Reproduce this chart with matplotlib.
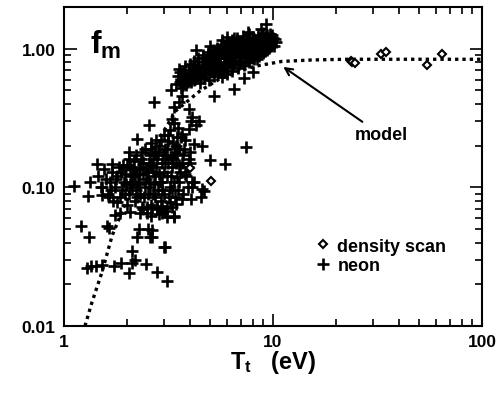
import numpy as np
import matplotlib
matplotlib.use('Agg')
import matplotlib.pyplot as plt

plt.rcParams['font.family'] = ['Liberation Sans', 'DejaVu Sans']
plt.rcParams['font.weight'] = 'bold'
plt.rcParams['axes.labelweight'] = 'bold'
plt.rcParams['mathtext.fontset'] = 'custom'
plt.rcParams['mathtext.rm'] = 'Liberation Sans:bold'
plt.rcParams['mathtext.bf'] = 'Liberation Sans:bold'
plt.rcParams['mathtext.it'] = 'Liberation Sans:bold'

# neon shots (T_t [eV], f_m)
neon_upper = [
    (3.45, 0.56), (3.5, 0.64), (3.55, 0.71), (3.62, 0.52), (3.68, 0.60), (3.72, 0.67), (3.78, 0.75),
    (3.85, 0.55), (3.9, 0.63), (3.95, 0.70), (4.0, 0.78), (4.05, 0.58), (4.1, 0.66), (4.15, 0.73), (4.2, 0.82),
    (4.25, 0.61), (4.3, 0.69), (4.35, 0.77), (4.4, 0.86), (4.45, 0.57), (4.5, 0.64), (4.55, 0.72), (4.6, 0.80),
    (4.65, 0.90), (4.7, 0.62), (4.75, 0.68), (4.8, 0.76), (4.85, 0.85), (4.9, 0.94), (4.95, 0.60), (5.0, 0.70),
    (5.05, 0.79), (5.1, 0.88), (5.15, 0.98), (5.2, 0.64), (5.25, 0.73), (5.3, 0.82), (5.35, 0.92), (5.4, 1.02),
    (5.45, 0.67), (5.5, 0.76), (5.55, 0.86), (5.6, 0.96), (5.65, 1.07), (5.7, 0.63), (5.78, 0.71), (5.85, 0.80),
    (5.9, 0.90), (5.95, 1.00), (6.0, 1.12), (6.05, 0.66), (6.12, 0.75), (6.2, 0.84), (6.25, 0.94), (6.3, 1.05),
    (6.35, 1.16), (6.4, 0.69), (6.48, 0.78), (6.55, 0.88), (6.6, 0.98), (6.68, 1.09), (6.75, 1.20), (6.8, 0.73),
    (6.88, 0.82), (6.95, 0.92), (7.0, 1.02), (7.1, 1.13), (7.2, 1.24), (7.25, 0.76), (7.32, 0.86), (7.4, 0.96),
    (7.48, 1.06), (7.55, 1.17), (7.65, 1.27), (7.7, 0.80), (7.8, 0.90), (7.88, 1.00), (7.95, 1.10), (8.05, 1.21),
    (8.1, 0.84), (8.2, 0.94), (8.3, 1.04), (8.4, 1.14), (8.5, 1.25), (8.55, 0.88), (8.65, 0.98), (8.75, 1.08),
    (8.85, 1.18), (8.95, 1.30), (9.0, 0.93), (9.1, 1.03), (9.2, 1.13), (9.3, 1.23), (9.4, 0.98), (9.5, 1.08),
    (9.6, 1.18), (9.7, 1.28), (9.8, 1.04), (9.9, 1.13), (10.0, 1.20), (10.3, 1.12),
    (9.25, 1.5), (4.3, 0.98), (5.0, 1.05), (5.7, 1.16), (6.0, 1.22), (6.5, 1.2), (7.6, 1.33), (8.8, 1.38),
    (6.5, 0.51), (5.2, 0.46), (7.3, 0.62), (8.0, 0.68),
    (3.6, 0.68), (3.8, 0.64), (4.0, 0.62), (4.2, 0.70), (4.4, 0.74), (4.6, 0.67), (4.8, 0.82), (5.0, 0.90),
    (5.2, 0.84), (5.4, 0.78), (5.6, 0.70), (5.8, 0.95), (6.0, 0.86), (6.2, 1.0), (6.4, 0.92), (6.6, 0.82),
    (6.8, 1.05), (7.0, 0.80), (7.2, 0.95), (7.5, 0.88), (7.7, 1.12), (8.0, 0.98), (8.3, 0.90), (8.6, 1.15),
    (9.0, 1.1), (9.4, 1.26), (9.8, 1.2), (10.1, 1.05),
    (3.7, 0.55), (3.9, 0.58), (4.1, 0.62), (4.3, 0.65), (4.5, 0.68), (4.7, 0.72), (4.9, 0.76), (5.1, 0.80),
    (5.3, 0.86), (5.5, 0.90), (5.7, 0.93), (5.9, 0.97), (6.1, 1.02), (6.3, 1.08), (6.5, 1.12), (6.7, 1.15),
    (4.6, 0.86), (4.9, 0.88), (5.2, 0.95), (5.5, 1.0), (5.8, 1.05), (6.1, 0.92), (6.4, 0.86), (6.7, 0.95),
    (7.0, 1.08), (7.3, 1.10), (7.6, 1.0), (7.9, 0.94), (8.2, 1.12), (8.5, 1.04), (8.8, 0.95), (9.1, 1.18),
    (5.4, 0.70), (5.9, 0.74), (6.3, 0.77), (6.9, 0.78), (7.4, 0.82), (7.9, 0.86), (8.4, 0.85), (9.2, 0.97),
    (4.2, 0.60), (4.4, 0.64), (4.8, 0.66), (5.1, 0.68), (9.6, 1.02), (9.9, 1.26), (10.2, 1.17), (8.9, 1.23),
]
neon_lower = [
    (1.62, 0.09), (1.66, 0.11), (1.70, 0.13), (1.72, 0.08), (1.76, 0.10), (1.80, 0.12), (1.84, 0.14),
    (1.86, 0.085), (1.9, 0.095), (1.93, 0.11), (1.96, 0.125), (2.0, 0.145), (2.0, 0.075), (2.04, 0.09),
    (2.07, 0.105), (2.1, 0.12), (2.13, 0.135), (2.16, 0.155), (2.18, 0.08), (2.22, 0.095), (2.25, 0.11),
    (2.28, 0.125), (2.31, 0.14), (2.34, 0.16), (2.36, 0.18), (2.38, 0.07), (2.42, 0.085), (2.45, 0.1),
    (2.48, 0.115), (2.51, 0.13), (2.54, 0.15), (2.57, 0.17), (2.6, 0.19), (2.62, 0.075), (2.66, 0.09),
    (2.7, 0.105), (2.73, 0.12), (2.76, 0.14), (2.8, 0.16), (2.83, 0.18), (2.86, 0.2), (2.9, 0.08),
    (2.93, 0.095), (2.96, 0.11), (3.0, 0.13), (3.03, 0.15), (3.07, 0.17), (3.1, 0.19), (3.14, 0.215),
    (3.18, 0.085), (3.22, 0.1), (3.26, 0.12), (3.3, 0.14), (3.34, 0.16), (3.38, 0.18), (3.42, 0.2),
    (3.46, 0.23), (3.5, 0.095), (3.55, 0.11), (3.6, 0.13), (3.65, 0.15), (3.7, 0.17), (3.75, 0.19),
    (3.8, 0.22), (3.85, 0.12), (3.9, 0.14), (3.95, 0.16), (4.0, 0.18),
    (3.0, 0.24), (3.2, 0.26), (3.5, 0.27), (2.75, 0.22), (3.35, 0.29),
    (1.45, 0.12), (1.5, 0.10), (1.55, 0.135), (1.58, 0.115), (1.52, 0.088),
    (2.5, 0.065), (2.8, 0.07), (3.05, 0.068), (3.3, 0.072), (3.2, 0.078), (3.4, 0.085), (2.95, 0.065),
    (2.3, 0.065), (2.6, 0.062), (3.35, 0.062), (1.75, 0.063), (1.85, 0.065),
    (2.36, 0.072), (2.5, 0.072), (2.65, 0.071), (2.78, 0.072), (2.93, 0.073), (3.1, 0.071),
    (3.7, 0.09), (3.9, 0.1), (4.1, 0.11), (3.8, 0.125), (4.0, 0.15),
    (1.68, 0.095), (1.78, 0.115), (1.88, 0.13), (1.98, 0.105), (2.08, 0.14), (2.18, 0.12), (2.28, 0.105),
    (2.38, 0.15), (2.46, 0.135), (2.56, 0.11), (2.66, 0.16), (2.72, 0.18), (2.84, 0.125), (2.94, 0.15),
    (3.04, 0.19), (3.12, 0.12), (3.24, 0.165), (3.32, 0.21), (3.44, 0.15), (3.56, 0.19), (3.64, 0.23),
    (2.2, 0.17), (2.44, 0.19), (2.9, 0.22), (3.15, 0.24), (2.6, 0.21), (2.04, 0.16), (1.92, 0.145),
    (2.74, 0.085), (3.0, 0.09), (3.28, 0.095), (2.52, 0.09), (2.24, 0.085), (3.55, 0.145),
    (1.95, 0.09), (2.12, 0.1), (2.3, 0.09), (2.4, 0.125), (2.58, 0.1), (2.68, 0.13), (2.88, 0.11),
    (2.98, 0.17), (3.16, 0.15), (3.36, 0.11), (3.48, 0.175), (2.62, 0.145), (2.82, 0.095), (2.15, 0.11),
]
neon_sparse = [
    (1.12, 0.103), (1.33, 0.11), (1.30, 0.087), (1.44, 0.148), (1.21, 0.053), (1.32, 0.044), (1.6, 0.053),
    (1.64, 0.051), (1.29, 0.026), (1.35, 0.027), (1.42, 0.027), (1.52, 0.0275), (1.73, 0.027), (1.87, 0.0285),
    (2.05, 0.024), (2.11, 0.0285), (2.19, 0.030), (2.11, 0.035), (2.47, 0.028), (2.79, 0.0245), (3.11, 0.021),
    (3.05, 0.037), (2.23, 0.044), (2.28, 0.050), (2.52, 0.050), (2.58, 0.044), (2.07, 0.066), (1.70, 0.148),
    (2.05, 0.18), (2.23, 0.224), (1.52, 0.10), (1.64, 0.085), (1.79, 0.078),
    (5.0, 0.158), (5.89, 0.148), (4.1, 0.10), (4.68, 0.094), (4.5, 0.085), (3.68, 0.082), (4.05, 0.082),
    (3.43, 0.076), (3.36, 0.061), (2.85, 0.064), (3.1, 0.061), (2.63, 0.049), (2.63, 0.044), (3.0, 0.037),
    (3.47, 0.119), (2.7, 0.41), (2.55, 0.28), (7.4, 0.196), (4.43, 0.30), (4.05, 0.30), (3.97, 0.264),
    (3.68, 0.243), (4.57, 0.2), (4.1, 0.32), (3.29, 0.31), (3.25, 0.50), (3.36, 0.38), (3.55, 0.41),
    (4.19, 0.206), (3.6, 0.58), (3.97, 0.37), (4.28, 0.28), (3.68, 0.46), (4.2, 0.11), (4.57, 0.098),
]

density_T = [4.0, 5.05, 23.6, 23.9, 24.7, 32.9, 34.6, 54.6, 64.4]
density_f = [0.138, 0.112, 0.82, 0.806, 0.79, 0.92, 0.95, 0.767, 0.92]

model_T = [1.26, 1.36, 1.52, 1.70, 1.98, 2.28, 2.85, 3.43, 4.5, 5.5, 7.0, 8.3, 11.0, 15.3, 22.4, 35, 60, 100]
model_f = [0.01, 0.0148, 0.0245, 0.045, 0.078, 0.143, 0.224, 0.357, 0.5, 0.6, 0.7, 0.75, 0.81, 0.83, 0.84, 0.84, 0.84, 0.84]

neon = np.array(neon_upper + neon_lower + neon_sparse)

fig = plt.figure(figsize=(5, 4.1), dpi=100)
ax = fig.add_axes([0.128, 0.2024, 0.836, 0.778])

ax.plot(model_T, model_f, color='black', ls=(0, (1, 1.2)), lw=2.4)
ax.plot(neon[:, 0], neon[:, 1], ls='none', marker='+', ms=8, mew=1.9, color='black', label='neon')
ax.plot(density_T, density_f, ls='none', marker='D', ms=4.5, mew=1.5, mfc='white', mec='black',
        label='density scan')

ax.set_xscale('log')
ax.set_yscale('log')
ax.set_xlim(1, 100)
ax.set_ylim(0.01, 2.0)
ax.set_xticks([1, 10, 100])
ax.set_xticklabels(['1', '10', '100'])
ax.set_yticks([0.01, 0.1, 1.0])
ax.set_yticklabels(['0.01', '0.10', '1.00'])
ax.tick_params(which='both', direction='in', top=True, right=True, width=1.2, labelsize=12.5)
ax.tick_params(which='major', length=9, pad=6)
ax.tick_params(which='minor', length=5)
for s in ax.spines.values():
    s.set_linewidth(1.5)

ax.set_xlabel(r'$\mathrm{T_t}$   (eV)', fontsize=17, labelpad=-1)
ax.text(0.062, 0.935, r'$\mathrm{f_m}$', transform=ax.transAxes, fontsize=23, va='top')

ax.annotate('model', xy=(11.2, 0.74), xytext=(24.5, 0.24), fontsize=13, va='center',
            arrowprops=dict(arrowstyle='->', color='black', lw=1.5, shrinkA=2, shrinkB=0))

h, l = ax.get_legend_handles_labels()
ax.legend(h[::-1], l[::-1], loc='upper left', bbox_to_anchor=(0.585, 0.30), frameon=False,
          fontsize=13, handlelength=0.8, handletextpad=0.4, labelspacing=0.15, borderaxespad=0)

fig.savefig('out.png', dpi=100)
